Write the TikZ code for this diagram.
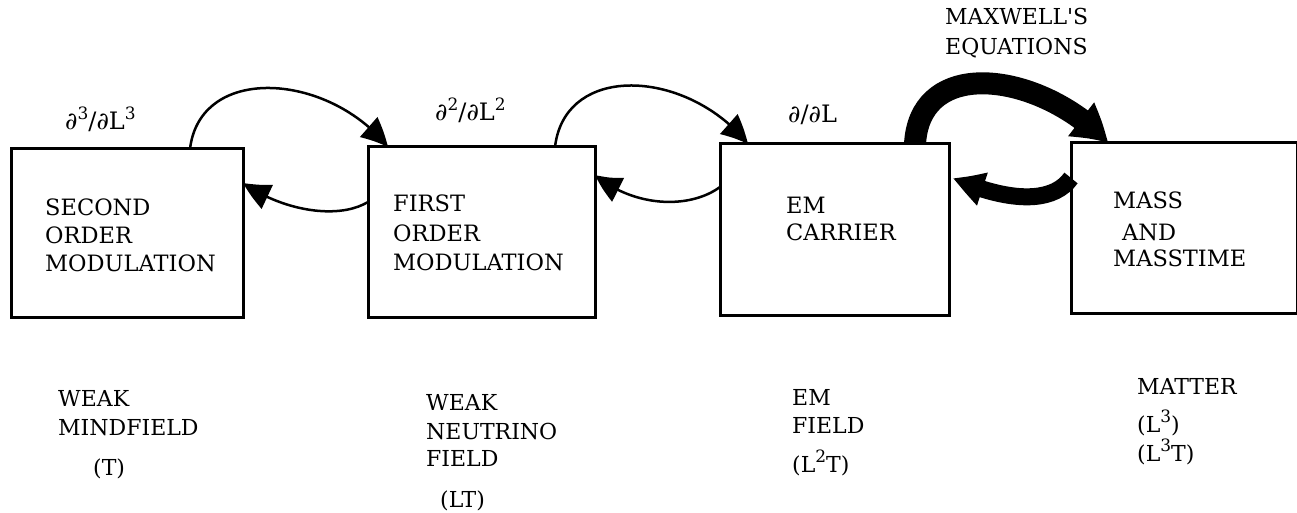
\documentclass[tikz,border=0pt]{standalone}
\usepackage{fontspec}
\newfontfamily\tw{DejaVu Serif}
\usetikzlibrary{arrows.meta,bending}
\newcommand{\upnum}[2][16]{\raisebox{0.42em}{\fontsize{#1}{#1}\selectfont #2}}
\begin{document}
\begin{tikzpicture}[x=1pt,y=-1pt,
  box/.style={draw, line width=3pt, inner sep=0pt, outer sep=0pt, rectangle},
  boxtxt/.style={anchor=base west, inner sep=0pt, font={\tw\fontsize{22.5}{26}\selectfont}},
  lowtxt/.style={anchor=base west, inner sep=0pt, font={\tw\fontsize{22}{26}\selectfont}},
  optxt/.style={anchor=base west, inner sep=0pt, font={\tw\fontsize{24}{26}\selectfont}},
  thinarrow/.style={line width=2.5pt, -{Triangle[length=28pt,width=26pt,bend]}},
  bigtop/.style={line width=22pt, -{Triangle[length=36pt,width=40pt,bend]}},
  bigbot/.style={line width=17pt, -{Triangle[length=32pt,width=32pt,bend]}}
]
\useasboundingbox (0,0) rectangle (1297,513);

% boxes
\node[box, minimum width=232pt, minimum height=168pt] (b1) at (127,233) {};
\node[box, minimum width=227pt, minimum height=170pt] (b2) at (481.5,232) {};
\node[box, minimum width=229pt, minimum height=171pt] (b3) at (834.5,229.5) {};
\node[box, minimum width=226pt, minimum height=170pt] (b4) at (1184,228) {};

% box texts
\node[boxtxt] (t1a) at (45,215) {SECOND};
\node[boxtxt] (t1b) at (45,243) {ORDER};
\node[boxtxt] (t1c) at (45,271) {MODULATION};
\node[boxtxt] (t2a) at (393,211) {FIRST};
\node[boxtxt] (t2b) at (393,241) {ORDER};
\node[boxtxt] (t2c) at (393,270) {MODULATION};
\node[boxtxt] (t3a) at (786,213) {EM};
\node[boxtxt] (t3b) at (786,240) {CARRIER};
\node[boxtxt] (t4a) at (1113,208) {MASS};
\node[boxtxt] (t4b) at (1122,240) {AND};
\node[boxtxt] (t4c) at (1113,266) {MASSTIME};

% operator labels
\node[optxt] (o1) at (65,130) {∂\upnum[17]{3}/∂L\upnum[17]{3}};
\node[optxt] (o2) at (435,121) {∂\upnum[17]{2}/∂L\upnum[17]{2}};
\node[optxt] (o3) at (788,123) {∂/∂L};
\node[lowtxt] (mx1) at (945,25) {MAXWELL'S};
\node[lowtxt] (mx2) at (945,55) {EQUATIONS};

% lower labels
\node[lowtxt] (l1a) at (58,406) {WEAK};
\node[lowtxt] (l1b) at (58,435) {MINDFIELD};
\node[lowtxt] (l1c) at (93,475) {(T)};
\node[lowtxt] (l2a) at (426,410) {WEAK};
\node[lowtxt] (l2b) at (426,439) {NEUTRINO};
\node[lowtxt] (l2c) at (426,466) {FIELD};
\node[lowtxt] (l2d) at (440,507) {(LT)};
\node[lowtxt] (l3a) at (792,405) {EM};
\node[lowtxt] (l3b) at (792,433) {FIELD};
\node[lowtxt] (l3c) at (792,472) {(L\upnum[17]{2}T)};
\node[lowtxt] (l4a) at (1137,394) {MATTER};
\node[lowtxt] (l4b) at (1137,432) {(L\upnum[17]{3})};
\node[lowtxt] (l4c) at (1137,461) {(L\upnum[17]{3}T)};

% connectors
\coordinate (a1s) at ([xshift=179pt]b1.north west);
\coordinate (a1e) at ([xshift=20pt]b2.north west);
\draw[thinarrow] (a1s) .. controls +(10,-85) and +(-60,-75) .. (a1e);
\coordinate (a2s) at ([yshift=-55pt]b2.north west);
\coordinate (a2e) at ([yshift=-34pt]b1.north east);
\draw[thinarrow] (a2s) .. controls +(-30,18) and +(40,28) .. (a2e);
\coordinate (a3s) at ([xshift=187pt]b2.north west);
\coordinate (a3e) at ([xshift=28pt]b3.north west);
\draw[thinarrow] (a3s) .. controls +(10,-85) and +(-60,-75) .. (a3e);
\coordinate (a4s) at ([yshift=-43pt]b3.north west);
\coordinate (a4e) at ([yshift=-28pt]b2.north east);
\draw[thinarrow] (a4s) .. controls +(-30,22) and +(40,33) .. (a4e);
\coordinate (a5s) at ([xshift=195pt]b3.north west);
\coordinate (a5e) at ([xshift=37pt]b4.north west);
\draw[bigtop] (a5s) .. controls +(5,-90) and +(-65,-70) .. (a5e);
\coordinate (a6s) at ([yshift=-35pt]b4.north west);
\coordinate (a6e) at ([xshift=4pt,yshift=-34pt]b3.north east);
\draw[bigbot] (a6s) .. controls +(-20,28) and +(50,22) .. (a6e);
\end{tikzpicture}
\end{document}
